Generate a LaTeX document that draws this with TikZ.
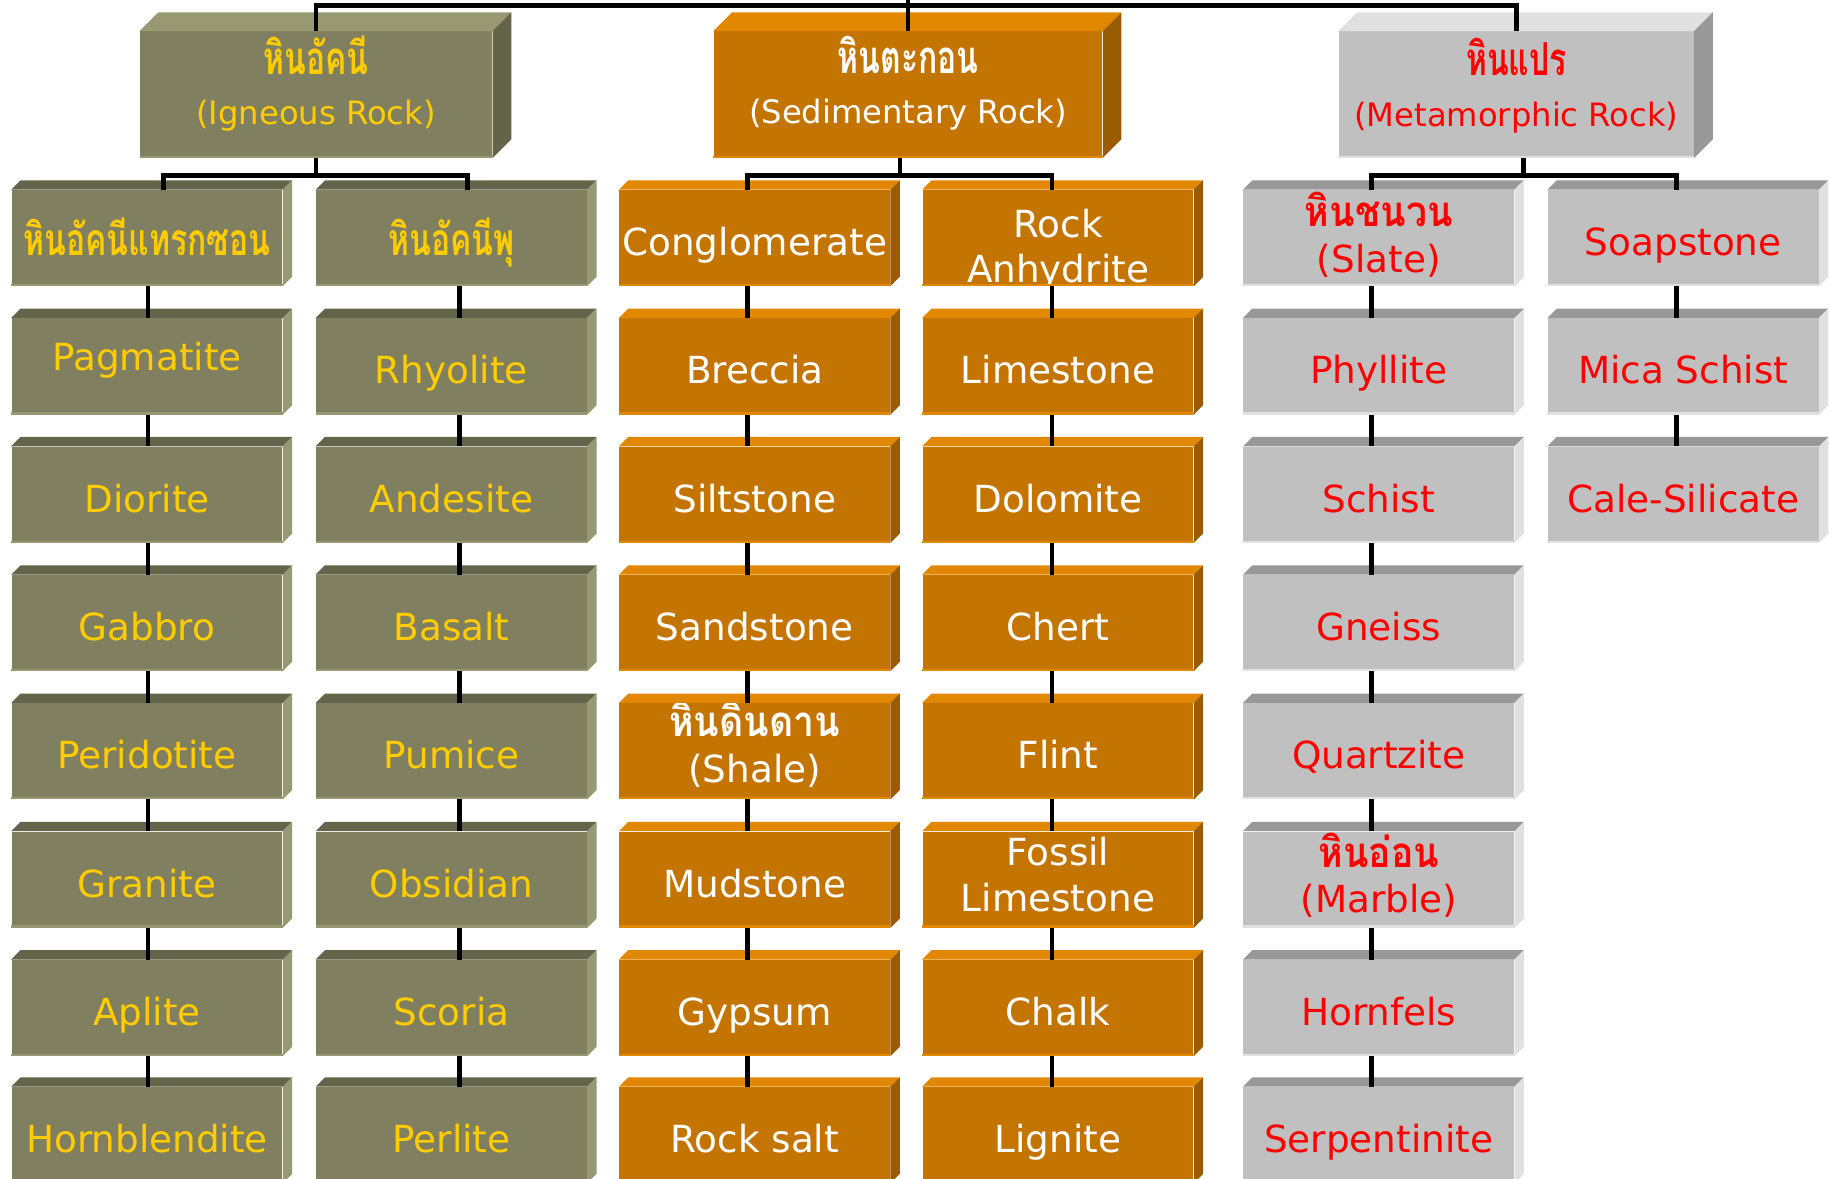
\documentclass[tikz,border=0pt]{standalone}
\usepackage{fontspec}
\setmainfont{DejaVu Sans}
\newfontfamily\thaimid[Script=Thai,FakeStretch=0.89]{Loma}
\newfontfamily\thainarrow[Script=Thai,FakeStretch=0.72]{Loma}
\newfontfamily\thaitop[Script=Thai,FakeStretch=0.7]{Loma}
\usetikzlibrary{calc}
\definecolor{olF}{RGB}{128,128,96}
\definecolor{olL}{RGB}{152,152,114}
\definecolor{olD}{RGB}{100,100,74}
\definecolor{orF}{RGB}{196,116,0}
\definecolor{orL}{RGB}{226,136,0}
\definecolor{orD}{RGB}{154,92,0}
\definecolor{grF}{RGB}{192,192,192}
\definecolor{grL}{RGB}{224,224,224}
\definecolor{grD}{RGB}{152,152,152}
\definecolor{txY}{RGB}{255,204,0}
\definecolor{txR}{RGB}{255,0,0}
\newcommand\thb[1]{{\thaimid\bfseries\fontsize{18}{19.5}\selectfont #1}}
\newcommand\thn[1]{{\thainarrow\bfseries\fontsize{19}{19.5}\selectfont #1}}
\newcommand\tht[1]{{\thaitop\bfseries\fontsize{19.5}{21.5}\selectfont #1}}
\newcommand\up[2]{\raisebox{#1}[\height][\depth]{#2}}
\newcommand\two[2]{\begin{tabular}{@{}c@{}}#1\\#2\end{tabular}}
% bevel: name, depth, top colour, side colour, bottom line colour
\newcommand\bevel[5]{%
  \fill[#3] (#1.north west) -- ([xshift=#2,yshift=#2]#1.north west) -- ([xshift=#2,yshift=#2]#1.north east) -- (#1.north east) -- cycle;
  \fill[#4] (#1.north east) -- ([xshift=#2,yshift=#2]#1.north east) -- ([xshift=#2,yshift=#2]#1.south east) -- (#1.south east) -- cycle;
  \draw[#5, line width=1pt] ([yshift=0.5pt]#1.south west) -- ([yshift=0.5pt]#1.south east);}
\tikzset{
  front/.style={rectangle, inner sep=0pt, minimum width=116pt, minimum height=41pt, align=center,
    font=\fontsize{16}{19.5}\selectfont, text height=18pt, text depth=3pt},
  multi/.style={text height=, text depth=},
  olive/.style={front, fill=olF, text=txY},
  orng/.style={front, fill=orF, text=white},
  gry/.style={front, fill=grF, text=txR},
  topbox/.style={multi, minimum height=54pt, font=\fontsize{13.8}{21.5}\selectfont},
  conn/.style={line width=2pt, black},
}
\begin{document}
\begin{tikzpicture}[x=0.5pt, y=-0.5pt]
\useasboundingbox (0,0) rectangle (1568,1010);
\clip (0,0) rectangle (1568,1010);

% ---------- top level ----------
\node[olive, topbox, minimum width=151pt] (ign) at (271,81)
  {\up{3pt}{\two{\tht{หินอัคนี}}{(Igneous Rock)}}};
\node[orng, topbox, minimum width=166.5pt] (sed) at (778.5,81)
  {\up{3pt}{\two{\tht{หินตะกอน}}{(Sedimentary Rock)}}};
\node[gry, topbox, minimum width=152pt] (met) at (1300,81)
  {\up{2pt}{\two{\tht{หินแปร}}{(Metamorphic Rock)}}};
\bevel{ign}{8pt}{olL}{olD}{olL}
\bevel{sed}{8pt}{orL}{orD}{orL}
\bevel{met}{8pt}{grL}{grD}{grL}

% ---------- column 1 : intrusive igneous ----------
\node[olive] (a1) at (126,204) {\thn{หินอัคนีแทรกซอน}};
\node[olive] (a2) at (126,314) {\up{5.5pt}{Pagmatite}};
\node[olive] (a3) at (126,424) {Diorite};
\node[olive] (a4) at (126,534) {Gabbro};
\node[olive] (a5) at (126,644) {Peridotite};
\node[olive] (a6) at (126,754) {Granite};
\node[olive] (a7) at (126,864) {Aplite};
\node[olive] (a8) at (126,973) {Hornblendite};
% ---------- column 2 : extrusive igneous ----------
\node[olive] (b1) at (387,204) {\thn{หินอัคนีพุ}};
\node[olive] (b2) at (387,314) {Rhyolite};
\node[olive] (b3) at (387,424) {Andesite};
\node[olive] (b4) at (387,534) {Basalt};
\node[olive] (b5) at (387,644) {Pumice};
\node[olive] (b6) at (387,754) {Obsidian};
\node[olive] (b7) at (387,864) {Scoria};
\node[olive] (b8) at (387,973) {Perlite};
% ---------- column 3 ----------
\node[orng] (c1) at (647,204) {Conglomerate};
\node[orng] (c2) at (647,314) {Breccia};
\node[orng] (c3) at (647,424) {Siltstone};
\node[orng] (c4) at (647,534) {Sandstone};
\node[orng, multi] (c5) at (647,644) {\up{1pt}{\two{\thb{หินดินดาน}}{(Shale)}}};
\node[orng] (c6) at (647,754) {Mudstone};
\node[orng] (c7) at (647,864) {Gypsum};
\node[orng] (c8) at (647,973) {Rock salt};
% ---------- column 4 ----------
\node[orng, multi] (d1) at (907,204) {\up{-5.5pt}{\two{Rock}{Anhydrite}}};
\node[orng] (d2) at (907,314) {Limestone};
\node[orng] (d3) at (907,424) {Dolomite};
\node[orng] (d4) at (907,534) {Chert};
\node[orng] (d5) at (907,644) {Flint};
\node[orng, multi] (d6) at (907,754) {\two{Fossil}{Limestone}};
\node[orng] (d7) at (907,864) {Chalk};
\node[orng] (d8) at (907,973) {Lignite};
% ---------- column 5 ----------
\node[gry, multi] (e1) at (1182,204) {\up{-0.5pt}{\two{\thb{หินชนวน}}{(Slate)}}};
\node[gry] (e2) at (1182,314) {Phyllite};
\node[gry] (e3) at (1182,424) {Schist};
\node[gry] (e4) at (1182,534) {Gneiss};
\node[gry] (e5) at (1182,644) {Quartzite};
\node[gry, multi] (e6) at (1182,754) {\two{\thb{หินอ่อน}}{(Marble)}};
\node[gry] (e7) at (1182,864) {Hornfels};
\node[gry] (e8) at (1182,973) {Serpentinite};
% ---------- column 6 ----------
\node[gry] (f1) at (1443,204) {Soapstone};
\node[gry] (f2) at (1443,314) {Mica Schist};
\node[gry] (f3) at (1443,424) {Cale-Silicate};

\foreach \n in {a,b}{\foreach \i in {1,...,8}{\bevel{\n\i}{4pt}{olD}{olL}{olL}}}
\foreach \n in {c,d}{\foreach \i in {1,...,8}{\bevel{\n\i}{4pt}{orL}{orD}{orL}}}
\foreach \i in {1,...,8}{\bevel{e\i}{4pt}{grD}{grL}{grL}}
\foreach \i in {1,...,3}{\bevel{f\i}{4pt}{grD}{grL}{grL}}

% ---------- connectors ----------
\coordinate (root) at (778.5,-10);
\coordinate (bus) at (778.5,5);
\draw[conn] (root) -- (bus);
\draw[conn] (bus) -| (ign.north);
\draw[conn] (bus) -| (met.north);
\draw[conn] (bus) -- (sed.north);

\draw[conn] (ign.south) -- ++(0,15) -| ([xshift=7pt]a1.north);
\draw[conn] (ign.south) -- ++(0,15) -| ([xshift=7pt]b1.north);
\draw[conn] ([xshift=-3.5pt]sed.south) -- ++(0,15) -| ([xshift=-3pt]c1.north);
\draw[conn] ([xshift=-3.5pt]sed.south) -- ++(0,15) -| ([xshift=-2.5pt]d1.north);
\draw[conn] ([xshift=3pt]met.south) -- ++(0,15) -| ([xshift=-3pt]e1.north);
\draw[conn] ([xshift=3pt]met.south) -- ++(0,15) -| ([xshift=-3pt]f1.north);

\foreach \i [evaluate=\i as \j using int(\i+1)] in {1,...,7}{
  \draw[conn] ([xshift=0.5pt]a\i.south) -- ([xshift=0.5pt]a\j.north);
  \draw[conn] ([xshift=3.5pt]b\i.south) -- ([xshift=3.5pt]b\j.north);
  \draw[conn] ([xshift=-3pt]c\i.south) -- ([xshift=-3pt]c\j.north);
  \draw[conn] ([xshift=-2.5pt]d\i.south) -- ([xshift=-2.5pt]d\j.north);
  \draw[conn] ([xshift=-3pt]e\i.south) -- ([xshift=-3pt]e\j.north);
}
\foreach \i [evaluate=\i as \j using int(\i+1)] in {1,2}{
  \draw[conn] ([xshift=-3pt]f\i.south) -- ([xshift=-3pt]f\j.north);
}
\end{tikzpicture}
\end{document}
